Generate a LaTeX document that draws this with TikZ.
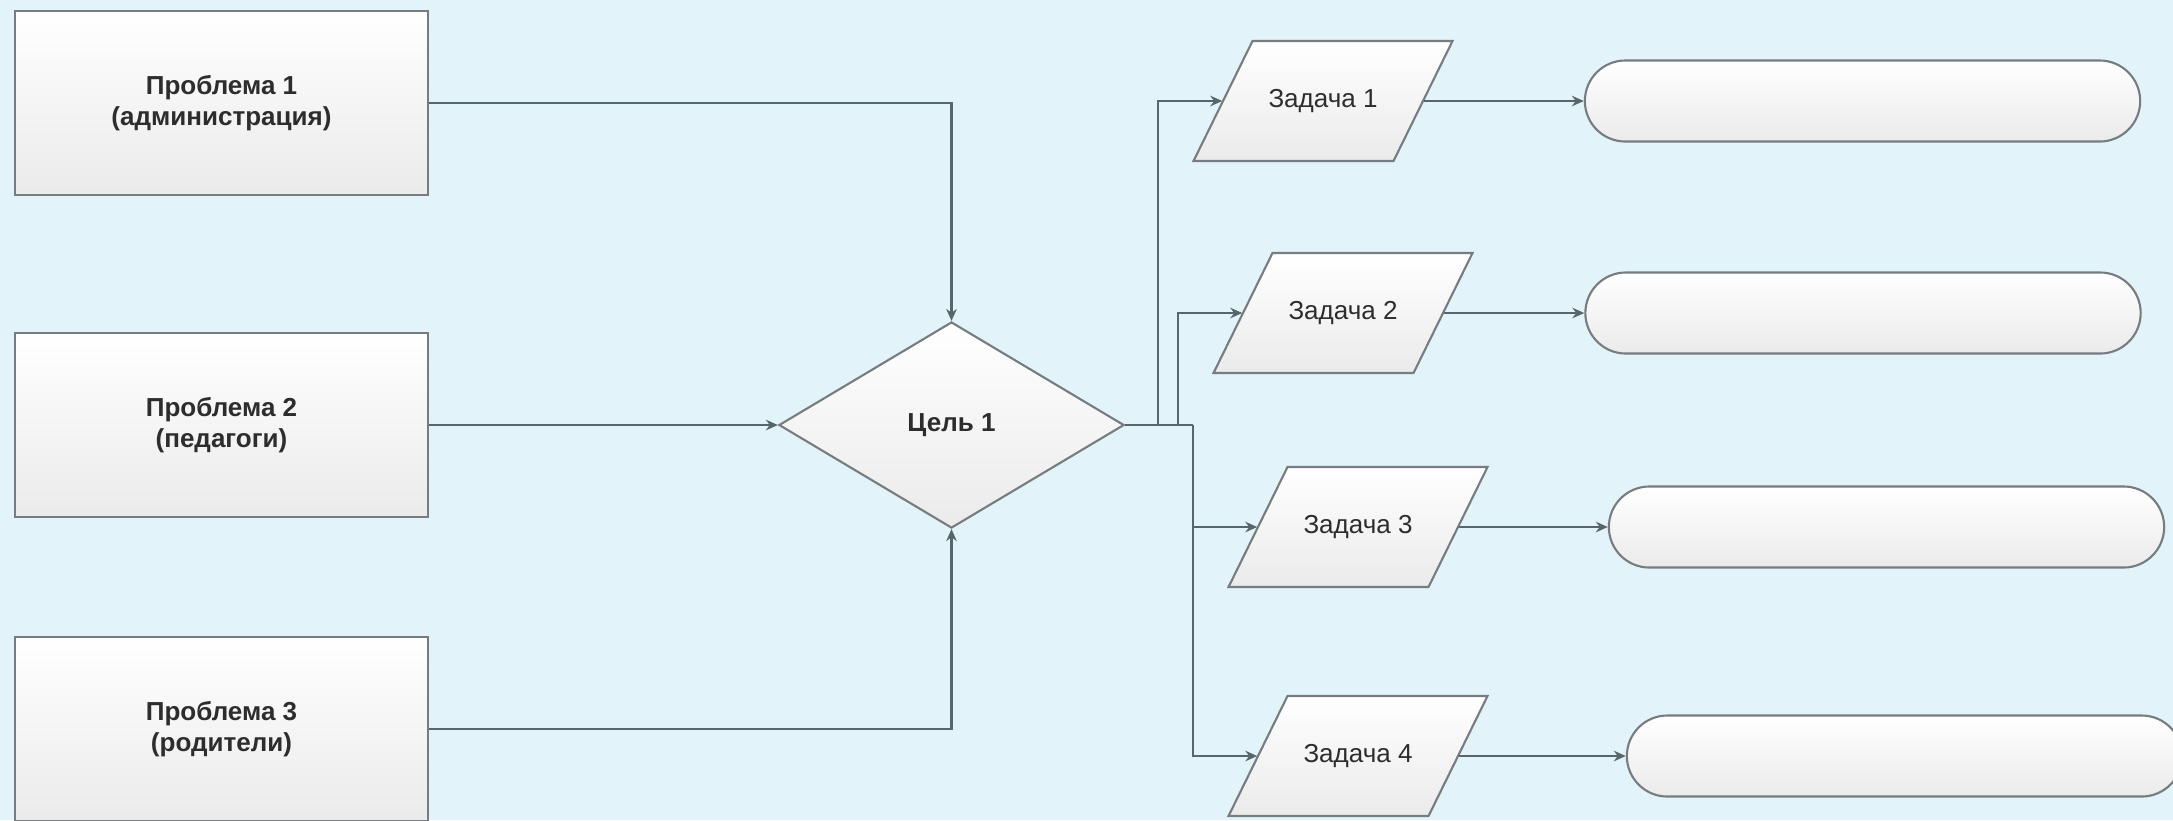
\documentclass[tikz,border=0pt]{standalone}
\usepackage{fontspec}
\setmainfont{Liberation Sans}
\usetikzlibrary{arrows.meta,shapes.geometric}
\definecolor{bgblue}{RGB}{226,244,250}
\definecolor{edgegray}{RGB}{118,124,128}
\definecolor{linegray}{RGB}{88,102,108}
\definecolor{txtgray}{RGB}{45,45,45}
\def\boxfont{\fontsize{7.4}{8.8}\selectfont}
\tikzset{
	shapefill/.style={draw=edgegray, line width=0.6pt, top color=white, bottom color=black!8, text=txtgray},
	problem/.style={shapefill, rectangle, minimum width=4.13cm, minimum height=1.84cm, align=center, font=\boxfont\bfseries},
	goal/.style={shapefill, diamond, minimum width=3.45cm, minimum height=2.06cm, inner sep=0pt, font=\boxfont\bfseries},
	task/.style={rectangle, minimum width=2cm, minimum height=1.2cm, inner sep=0pt, text=txtgray, font=\boxfont},
	result/.style={shapefill, rectangle, rounded corners=0.405cm, minimum width=5.55cm, minimum height=0.81cm},
	link/.style={draw=linegray, line width=0.6pt, -{Stealth[length=3.4pt,width=3pt]}},
	wire/.style={draw=linegray, line width=0.6pt}
}

\begin{document}
\begin{tikzpicture}[x=0.01cm, y=-0.01cm]
			%%%%% START %%%%%
			
			\fill[bgblue] (0, 0) rectangle (2173, 820);
			\useasboundingbox (0, 0) rectangle (2173, 820);
			
			\node[problem] (p1) at (221.5, 103) {Проблема 1\\(администрация)};
			\node[problem] (p2) at (221.5, 425) {Проблема 2\\(педагоги)};
			\node[problem] (p3) at (221.5, 729) {Проблема 3\\(родители)};
			
			\node[goal] (g) at (951.5, 425) {Цель 1};
			
			% parallelograms: half width 100, half height 60, shear 59
			\foreach \n/\x/\y in {1/1323/101, 2/1343/313, 3/1358/527, 4/1358/756} {
				\draw[shapefill] (\x-70.5, \y-60) -- (\x+129.5, \y-60) -- (\x+70.5, \y+60) -- (\x-129.5, \y+60) -- cycle;
				\node[task] (t\n) at (\x, \y) {Задача \n};
			}
			
			\node[result] (r1) at (1862.5, 101) {};
			\node[result] (r2) at (1863, 313) {};
			\node[result] (r3) at (1886.5, 527) {};
			\node[result] (r4) at (1904.5, 756) {};
			
			\coordinate (s1) at (1158, 425);
			\coordinate (s2) at (1178, 425);
			\coordinate (s3) at (1193, 425);
			
			\draw[link] (p1.east) -| (g.north);
			\draw[link] (p2.east) -- (g.west);
			\draw[link] (p3.east) -| (g.south);
			
			\draw[wire] (g.east) -- (s3);
			\draw[link] (s1) |- (t1.west);
			\draw[link] (s2) |- (t2.west);
			\draw[link] (s3) |- (t3.west);
			\draw[link] (s3) |- (t4.west);
			
			\foreach \i in {1,...,4}
				\draw[link] (t\i.east) -- (r\i.west);
			
			%%%%% END %%%%%
\end{tikzpicture}
\end{document}
